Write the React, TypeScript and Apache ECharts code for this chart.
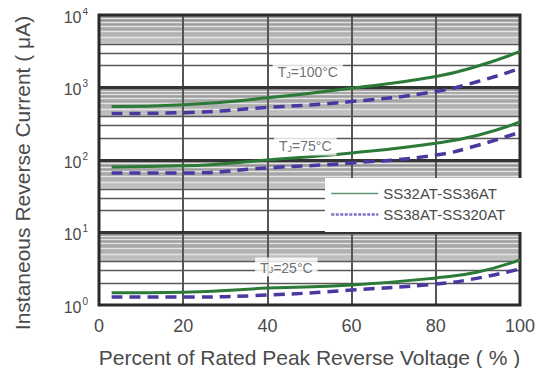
import React, { useEffect, useRef } from "react";
import * as echarts from "echarts";

const xValues = [3, 20, 40, 60, 80, 90, 100];
const solid100 = [547, 580, 720, 980, 1420, 1980, 3140];
const dashed100 = [437, 450, 530, 640, 880, 1210, 1830];
const solid75 = [80, 83, 100, 125, 170, 220, 335];
const dashed75 = [66, 66, 78, 91, 117, 160, 243];
const solid25 = [1.47, 1.5, 1.71, 1.89, 2.36, 2.85, 4.2];
const dashed25 = [1.29, 1.29, 1.37, 1.61, 1.95, 2.35, 3.15];

const legendNames = ["SS32AT-SS36AT", "SS38AT-SS320AT"];
const decades = [1, 10, 100, 1000];
const decadeLines = [10, 100, 1000];
const minorMultipliers = [2, 3, 4, 5, 6, 7, 8, 9];
const verticalLines = [20, 40, 60, 80];
const bandLow = 4;

const annotations = [
  { x: 49.6, y: 1660, temp: "100°C" },
  { x: 49.0, y: 156, temp: "75°C" },
  { x: 44.5, y: 3.34, temp: "25°C" },
];

const GREEN = "#2b7a37";
const PURPLE = "#4a38a0";
const FONT = "'Liberation Sans', Arial, sans-serif";
const TXT = "#4a4a4a";

function pairs(ys: number[]) {
  return xValues.map((x, i) => [x, ys[i]]);
}

export default function App() {
  const ref = useRef<HTMLDivElement>(null);
  useEffect(() => {
    if (!ref.current) return;
    const chart = echarts.init(ref.current, null, { renderer: "svg" });

    const bandAreas = decades.map((d) => [
      { yAxis: d * bandLow },
      { yAxis: d * 10 },
    ]);
    const lightLines: any[] = [];
    const darkLines: any[] = [];
    decades.forEach((d) => {
      minorMultipliers.forEach((m) => {
        const item = { yAxis: d * m };
        if (m > bandLow) lightLines.push(item);
        else darkLines.push(item);
      });
    });

    const solidStyle = { color: GREEN, width: 3, type: "solid" as const };
    const dashedStyle = { color: PURPLE, width: 3.5, type: [11, 7] as any };

    const mkLine = (name: string, ys: number[], style: any) => ({
      name,
      type: "line",
      data: pairs(ys),
      smooth: true,
      showSymbol: false,
      symbol: "none",
      lineStyle: style,
      itemStyle: { color: style.color },
      z: 3,
    });

    const gridLineSeries = (name: string, data: any[], lineStyle: any) => ({
      name,
      type: "line",
      data: [],
      symbol: "none",
      silent: true,
      z: 1,
      markLine: {
        silent: true,
        z: 1,
        symbol: "none",
        label: { show: false },
        lineStyle,
        data,
      },
    });

    chart.setOption({
      animation: false,
      textStyle: { fontFamily: FONT },
      grid: {
        left: 99,
        right: 29,
        top: 15,
        bottom: 71,
        show: true,
        borderColor: "#2a2a2a",
        borderWidth: 3,
        backgroundColor: "transparent",
        z: 2,
      },
      legend: {
        orient: "vertical",
        left: 325,
        top: 178,
        z: 6,
        backgroundColor: "#fff",
        padding: [8, 18, 10, 5],
        itemWidth: 47,
        itemHeight: 14,
        itemGap: 6,
        itemStyle: { opacity: 0 },
        data: [
          {
            name: legendNames[0],
            lineStyle: { width: 1.6, type: "solid", color: "#5c9474" },
          },
          {
            name: legendNames[1],
            lineStyle: { width: 2.5, type: [3, 1.5], color: "#7d70c4" },
          },
        ],
        textStyle: { fontSize: 15, color: TXT, fontFamily: FONT },
      },
      xAxis: {
        type: "value",
        min: 0,
        max: 100,
        interval: 20,
        name: "Percent of Rated Peak Reverse Voltage ( % )",
        nameLocation: "middle",
        nameGap: 42,
        nameTextStyle: { fontSize: 21, color: TXT, fontFamily: FONT },
        axisLine: { show: false },
        axisTick: { show: false },
        axisLabel: { fontSize: 18, color: TXT, margin: 12 },
        splitLine: { show: false },
      },
      yAxis: {
        type: "log",
        logBase: 10,
        min: 1,
        max: 10000,
        name: "Instaneous Reverse Current ( μA)",
        nameLocation: "middle",
        nameRotate: 90,
        nameGap: 66,
        nameTextStyle: {
          fontSize: 21,
          color: TXT,
          fontFamily: FONT,
          padding: [0, 26, 0, 0],
        },
        axisLine: { show: false },
        axisTick: { show: false },
        axisLabel: {
          margin: 11,
          formatter: (v: number) => `{b|10}{s|${Math.round(Math.log10(v))}}`,
          rich: {
            b: { fontSize: 16, color: TXT, fontFamily: FONT, padding: [4, 0, 0, 0] },
            s: { fontSize: 10, color: TXT, fontFamily: FONT, padding: [0, 0, 8, 1] },
          },
        },
        splitLine: { show: false },
        minorTick: { show: false },
      },
      series: [
        {
          name: "bands",
          type: "line",
          data: [],
          symbol: "none",
          silent: true,
          z: 0,
          markArea: {
            silent: true,
            z: -1,
            itemStyle: {
              color: new echarts.graphic.LinearGradient(0, 0, 0, 1, [
                { offset: 0, color: "#8a8a8a" },
                { offset: 0.5, color: "#a8a8a8" },
                { offset: 1, color: "#c6c6c6" },
              ]),
            },
            data: bandAreas,
          },
        },
        gridLineSeries("lightgrid", lightLines, { color: "#e4e4e4", width: 1.3, type: "solid" }),
        gridLineSeries("darkgrid", darkLines, { color: "#5a5a5a", width: 1.3, type: "solid" }),
        gridLineSeries(
          "vgrid",
          verticalLines.map((v) => ({ xAxis: v })),
          { color: "#555", width: 2, type: "solid" }
        ),
        gridLineSeries(
          "decadegrid",
          decadeLines.map((v) => ({ yAxis: v })),
          { color: "#333", width: 3, type: "solid" }
        ),
        mkLine(legendNames[0], solid100, solidStyle),
        mkLine(legendNames[1], dashed100, dashedStyle),
        mkLine(legendNames[0], solid75, solidStyle),
        mkLine(legendNames[1], dashed75, dashedStyle),
        mkLine(legendNames[0], solid25, solidStyle),
        mkLine(legendNames[1], dashed25, dashedStyle),
        {
          name: "annot",
          type: "scatter",
          symbolSize: 0,
          silent: true,
          z: 4,
          data: annotations.map((a) => ({ value: [a.x, a.y], temp: a.temp })),
          label: {
            show: true,
            position: "inside",
            formatter: (p: any) => `{t|T}{j|J}{t|=${p.data.temp}}`,
            backgroundColor: "#fff",
            padding: [3, 5, 2, 5],
            rich: {
              t: { fontSize: 14, color: TXT, fontFamily: FONT },
              j: { fontSize: 9, color: TXT, fontFamily: FONT, padding: [5, 0, 0, 0] },
            },
          },
        },
      ],
    });
    return () => chart.dispose();
  }, []);
  return <div ref={ref} style={{ width: 549, height: 376, margin: -8 }} />;
}
